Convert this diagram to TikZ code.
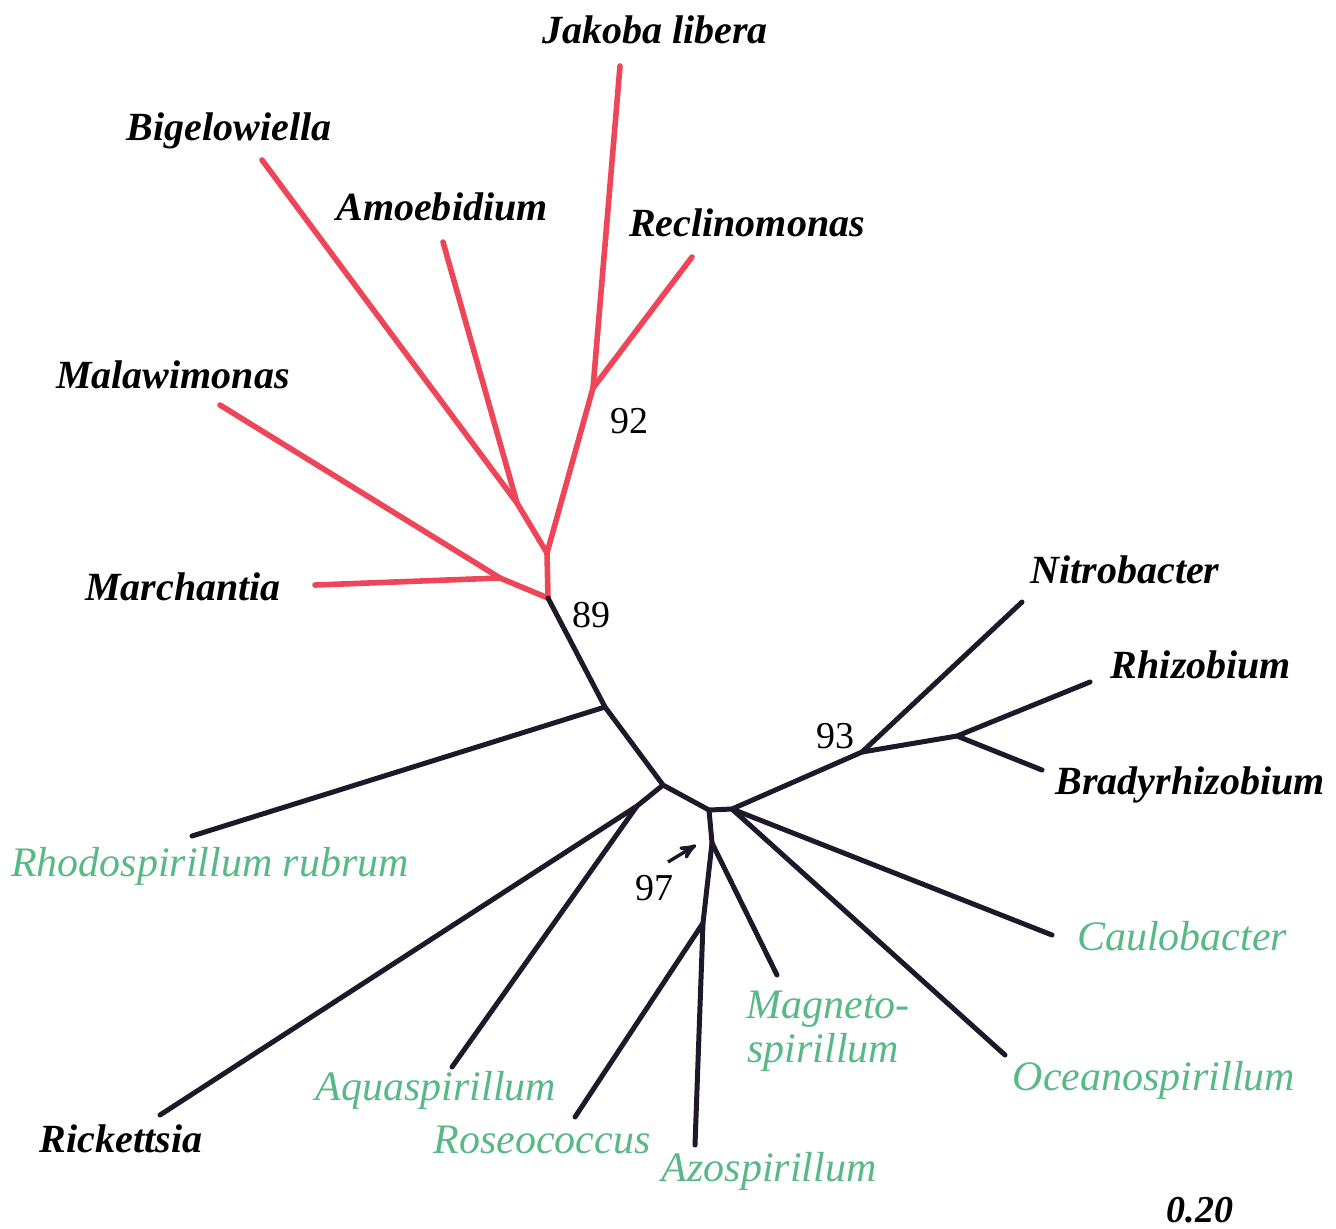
\documentclass[tikz,border=0pt]{standalone}
\usepackage{fontspec}
\setmainfont{Liberation Serif}
\usepackage{xcolor}
\usepackage{tikz}
\usetikzlibrary{arrows}
\definecolor{tred}{RGB}{236,70,88}
\definecolor{tgreen}{RGB}{88,184,134}
\definecolor{tblack}{RGB}{30,24,42}
\tikzset{
    taxon/.style = {anchor=base, inner sep=0pt, font=\fontsize{20}{24}\selectfont\bfseries\itshape},
    gtaxon/.style = {anchor=base, inner sep=0pt, tgreen, font=\fontsize{21}{26}\selectfont\itshape},
    boot/.style = {anchor=base, inner sep=0pt, font=\fontsize{19}{22}\selectfont},
    redb/.style = {draw=tred, line width=2.8pt, line cap=round, line join=round},
    blkb/.style = {draw=tblack, line width=2.5pt, line cap=round, line join=round}
}
\begin{document}
\begin{tikzpicture}[x=0.5pt, y=-0.5pt, >=stealth']
    \useasboundingbox (0,0) rectangle (1336,1228);
    % internal nodes
    \coordinate (n89) at (548,598);
    \coordinate (nmar) at (500,578);
    \coordinate (nup) at (547,553);
    \coordinate (nbig) at (517,503);
    \coordinate (n92) at (593,388);
    \coordinate (nrho) at (605,707);
    \coordinate (nc) at (663,785);
    \coordinate (nric) at (637,806);
    \coordinate (nd) at (709,810);
    \coordinate (ne) at (732,809);
    \coordinate (nmag) at (712,843);
    \coordinate (nros) at (703,923);
    \coordinate (n93) at (862,752);
    \coordinate (nrhz) at (957,736);
    % leaves
    \coordinate (ljak) at (620,66);
    \coordinate (lrec) at (692,257);
    \coordinate (lbig) at (262,160);
    \coordinate (lamo) at (443,242);
    \coordinate (lmal) at (220,405);
    \coordinate (lmar) at (315,585);
    \coordinate (lrho) at (192,836);
    \coordinate (lric) at (160,1115);
    \coordinate (laqu) at (452,1067);
    \coordinate (lros) at (575,1117);
    \coordinate (lazo) at (695,1145);
    \coordinate (lmag) at (777,975);
    \coordinate (locn) at (1005,1055);
    \coordinate (lcau) at (1052,935);
    \coordinate (lnit) at (1022,602);
    \coordinate (lrhz) at (1090,682);
    \coordinate (lbra) at (1042,770);
    % red part
    \draw[redb] (lmar) -- (nmar) -- (n89) -- (nup) -- (nbig) -- (lbig);
    \draw[redb] (lmal) -- (nmar);
    \draw[redb] (nbig) -- (lamo);
    \draw[redb] (nup) -- (n92) -- (ljak);
    \draw[redb] (n92) -- (lrec);
    % black part
    \draw[blkb] (n89) -- (nrho) -- (nc) -- (nd) -- (ne) -- (n93) -- (nrhz) -- (lrhz);
    \draw[blkb] (nrho) -- (lrho);
    \draw[blkb] (nc) -- (nric) -- (lric);
    \draw[blkb] (nric) -- (laqu);
    \draw[blkb] (nd) -- (nmag) -- (nros) -- (lazo);
    \draw[blkb] (nmag) -- (lmag);
    \draw[blkb] (nros) -- (lros);
    \draw[blkb] (ne) -- (locn);
    \draw[blkb] (ne) -- (lcau);
    \draw[blkb] (n93) -- (lnit);
    \draw[blkb] (nrhz) -- (lbra);
    % labels
    \node[taxon] (tjak) at (655,43) {Jakoba libera};
    \node[taxon] (tbig) at (229,140) {Bigelowiella};
    \node[taxon] (tamo) at (442,220) {Amoebidium};
    \node[taxon] (trec) at (747,236) {Reclinomonas};
    \node[taxon] (tmal) at (173,388) {Malawimonas};
    \node[taxon] (tmar) at (183,600) {Marchantia};
    \node[taxon] (tnit) at (1125,583) {Nitrobacter};
    \node[taxon] (trhz) at (1201,678) {Rhizobium};
    \node[taxon] (tbra) at (1190,794) {Bradyrhizobium};
    \node[taxon] (tric) at (121,1152) {Rickettsia};
    \node[gtaxon] (trho) at (210,876) {Rhodospirillum rubrum};
    \node[gtaxon] (tcau) at (1182,950) {Caulobacter};
    \node[gtaxon, anchor=base west] (tmag) at (746,1018) {Magneto-};
    \node[gtaxon, anchor=base west] (tspi) at (747,1062) {spirillum};
    \node[gtaxon] (tocn) at (1154,1090) {Oceanospirillum};
    \node[gtaxon] (taqu) at (436,1100) {Aquaspirillum};
    \node[gtaxon] (tros) at (542,1153) {Roseococcus};
    \node[gtaxon] (tazo) at (769,1181) {Azospirillum};
    \node[boot] (b92) at (629,433) {92};
    \node[boot] (b89) at (591,627) {89};
    \node[boot] (b93) at (835,748) {93};
    \node[boot] (b97) at (654,900) {97};
    \node[taxon, font=\fontsize{19}{22}\selectfont\bfseries\itshape] (tscale) at (1200,1222) {0.20};
    % arrow to node 97
    \coordinate (a97) at (668,862);
    \coordinate (b97t) at (696,845);
    \draw[->, tblack, line width=1.7pt] (a97) -- (b97t);
\end{tikzpicture}
\end{document}
